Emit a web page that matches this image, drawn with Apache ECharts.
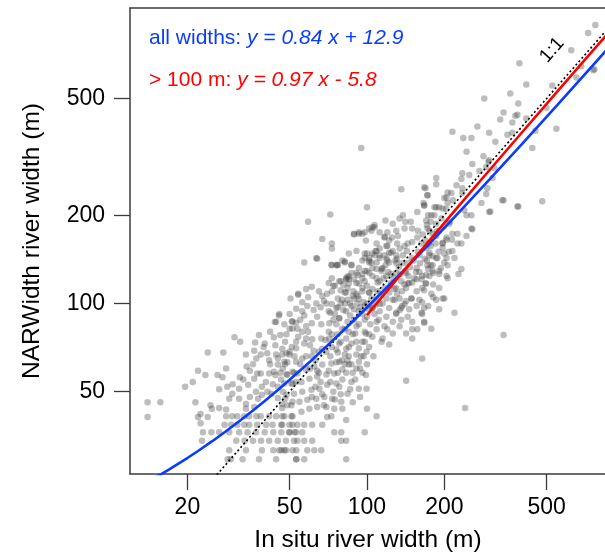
<!DOCTYPE html>
<html>
<head>
<meta charset="utf-8">
<script src="https://cdn.jsdelivr.net/npm/echarts@6/dist/echarts.min.js"></script>
<style>
html, body { margin: 0; padding: 0; background: #fff; }
#chart { width: 605px; height: 556px; }
</style>
</head>
<body>
<div id="chart"></div>
<script>
// tick values
var xTicks = [20, 50, 100, 200, 500];
var yTicks = [50, 100, 200, 500];

// fit coefficients (from the labels)
var fitAll = {slope: 0.84, icpt: 12.9};
var fitWide = {slope: 0.97, icpt: -5.8};
var fitAllX = [14, 15, 16, 17, 18, 20, 22, 25, 28, 32, 36, 40, 45, 50, 60, 70, 85, 100, 130, 170, 220, 300, 400, 550, 700, 900];
var fitWideX = [100, 130, 170, 220, 300, 400, 550, 700, 900];
var oneToOne = [[10, 10], [1200, 1200]];

// in situ width, NARWidth (m)
var ptsTail = [[14,46],[15.7,46],[14,41],[19.6,52],[21,54],[22,59],[24,68],[23.5,57],[21.5,46],[22.5,42],[22,41],[24,41],[22.5,39],[23,36.4],[22.8,34],
  [24.6,45],[26.6,51],[26.2,57],[27.4,56],[27.6,68],[28.3,60],[28.6,52],[26.6,44],[28.3,43.5],[24.9,43.7],[29.1,47.3],[29.9,49.2],[31.8,51.2]];

var ptsRows = [[28.3,41.2],[29.9,41.2],[31.3,41.2],[33.3,41.2],[34.8,41.2],[37.1,41.2],[38.6,41.2],[41.6,41.2],[44.3,41.2],[46.8,41.2],[50.8,41.2],
  [27.9,38.6],[29.6,38.6],[31.3,38.6],[33.3,38.6],[34.8,38.6],[37.4,38.6],[40.5,38.6],[42.9,38.6],[46.8,38.6],[51.3,38.6],
  [24.8,36.4],[26.6,36.4],[29.1,36.4],[31.8,36.4],[34.3,36.4],[37,36.4],[40,36.4],[43.2,36.4],[46.4,36.4],[49.9,36.4],[53,36.4],
  [31,34],[33.4,34],[36,34],[38.7,34],[41.6,34],[45,34],[48.4,34],[52,34],
  [29.1,31.6],[33.8,31.6],[39,31.6],[43.2,31.6],[46.4,31.6],[48.4,31.6],[51.3,31.6],
  [28.7,29.4],[29.5,29.4],[32.8,29.4],[38,29.4],[44.3,29.4],[53,29.4]];

var ptsSmall = [[31.8,47.3],[33.8,45.4],[34.5,52.8],[36.4,55.4],[37.4,57.7],[38.6,57.7],[40.4,54],[41.6,57.7],[43.4,58.5],[46.3,55],[48.6,57.2],[50.8,53.3],
  [39,48.8],[42.5,49.2],[45,47.6],[48.1,47.3],[51.3,46.2],[33.8,43.7],[36.4,44.3],[37.7,47.3],[46.8,44],[37.1,64.9],[40.9,67.6],[45,61.9],[48.6,67.6],
  [53,63.3],[47.7,63.3],[44.3,67],[51.3,58.5],[53,54],
  [30.5,76.7],[32.1,74],[33.8,67],[36.4,69],[36.7,73.6],[39.6,71],[43.4,76.7],[44.3,86.7],[48.6,78.5],[51.3,82.2],[46.8,70],[49.9,67],[53,74],[41.6,64],[45,65],[38.6,67],
  [50.4,104],[54,107],[45.4,91],[43.8,86.5],[51,87],[53,86],[50,82]];

var ptsCore = [[63.5,143],[72.7,135.5],[76.7,135.5],[80.2,140],[87,135.5],[96,140],[102,138],[98,148],[105,148],[112,146],[122,149],[119,142],[130,146],
  [109,131],[114,129],[102,127],[96,126],[92,125],[84,123],[89,121],[98,119],[100,115],[93,117],[85,117],[79,119],[73,122],[71,117.5],[65,110],[61,114],
  [54,108],[67,106],[73,110],[77,104],[83,109],[88.5,110],[96,110],[102,109],[84,103],[79,100],[73,99.5],[69.5,100],[63.5,100],[58.6,98],[56,94],
  [51.3,86.7],[47.7,85],[45.6,92],[53.6,82],[58,83.6],[61,85.6],[66.4,85],[71.4,85.6],[78,89],[83,94],[89,95.6],[91.7,100],[98,98],[105,96.4],
  [112,99.5],[119,104],[126,103],[131,108],[137,110],[144,117],[156,121],[164,124],[149,104],[137,98],[130,93],[136,88],[150,81.7],[164,64.9],[142,54.5],
  [120,81.7],[115,76],[109,81.7],[102,78.5],[98,74],[93,70.4],[99.6,68.4],[91,67],[87,73],[83,76],[76.7,78.5],[71.4,76],[66.4,76],[61.2,75.5],[57,73],
  [53,70.4],[50,68.4],[46.8,67],[52.2,66],[56,64.9],[61,66],[65,68.4],[69.5,68.4],[76,69.7],[82,67],[78,63.3],[72.7,62.4],[67,61.9],[62.4,61],[58,59.5],
  [53.6,57.7],[49,57.2],[47.7,53.3],[51.3,53.3],[55.6,54],[59.7,55.4],[64,56.3],[69.5,57.2],[74.6,57.7],[80.2,59.5],[85,61.9],[93,63.3],[87,54],[93,51.2],
  [99.6,51.2],[80.2,55],[76,53.3],[70,52.8],[65.3,51.2],[60.8,50.8],[56,50],[52,49.2],[48.6,48.8],[46.8,45.4],[50.8,45],[54.6,46.2],[58.6,46.9],[63.5,47.3],
  [68.2,48],[73.2,47.3],[79.4,46.2],[84,49.2],[80.2,43.7],[74.6,43.7],[69.5,44.3],[64,44.3],[59.7,43.7],[55.6,42.7],[51.3,41.2],[47.7,41.2],[46.4,38.6],
  [49.9,38.6],[53.6,38.6],[57,38.6],[61.2,38.6],[67,38.6],[72.7,41.2],[83,40],[100,43.7],[109,41.2],[98,36.4],[49.9,36.4],[52.2,36.4],[56,36.4],[74.6,36.4],
  [79.4,36.4],[83,34],[53.6,34],[57,34],[61.2,34],[79.4,34],[45.6,31.6],[47.7,31.6],[53.1,31.6],[58.6,31.6],[62.4,31.6],[66.4,31.6],[53.1,29.4],[57,29.4],[83,29.4],
  [82,138],[73,154],[76,135],[109,151],[117,146],[122,138],[130,127],[136,119],[142,113],[149,104],[156,98],[163,93],[146,95.6],[140,99.5],[134,104],
  [130,113],[124,117.5],[119,124],[114,131],[109,138],[102,143],[91,151],[85,148],[83,122],[87,127],[93,132],[100,129],[105,124],[112,119],[117,113],
  [122,109],[128,103],[136,96.4],[144,90],[150,86.7],[130,92],[122,96.4],[115,100],[109,104],[102,109],[96,113],[91,117.5],[85,121],[78,119],[75,115],
  [82,109],[88,106],[93,103.5],[100,100],[105,96.4],[112,94],[119,90],[126,86.7],[134,83.6],[142,79],[150,76],[200,104],[178,82],[167,86.7],[157,81.7],
  [126,79],[117,83.6],[109,86.7],[100,90],[93,94],[87,98],[80,103],[76,96.4],[71,94],[78,89],[84,86.7],[91,83.6],[98,80],[105,77],[114,74],[122,72.5],
  [96,74],[88,78.5],[82,81.7],[76,85],[73,78.5],[79,74],[85,71]];

var ptsDense = [[47,60],[49,63],[51,71],[54,77],[55,88],[57,91],[59,80],[60,72],[62,69],[63,64],[64,59],[66,54],[67,49],[68,45],[70,41],[71,59],[72,66],
  [73,71],[74,88],[75,92],[76,63],[77,58],[78,52],[79,49],[80,82],[81,95],[82,100],[83,58],[84,64],[85,80],[86,91],[87,62],[88,58],[89,88],[90,79],
  [91,74],[92,106],[93,85],[94,60],[95,66],[96,92],[97,101],[98,88],[99,57],[100,62],[101,96],[102,71],[103,85],[104,104],[106,66],[107,92],[108,99],
  [110,110],[111,88],[47,50],[49,45],[52,58],[55,62],[58,66],[60,60],[61,48],[63,52],[65,58],[67,70],[69,75],[71,80],[72,54],[74,50],[75,47],[77,68],
  [78,73],[80,64],[82,62],[83,70],[85,66],[86,51],[88,46],[90,55],[91,60],[94,48],[96,58],[97,66],[99,79],[59,105],[62,95],[64,90],[66,97],[68,102],
  [70,108],[72,93],[74,115],[77,97],[79,111],[81,116],[84,113],[86,100],[89,104],[91,108],[94,97],[58,112],[56,101],[53,96],[50,92],[48,74],[46,78],
  [44,72],[42,80],[40,73],[38,78],[36,62],[35,59],[33,55],[34,61],[39,52],[41,50],[43,53],[44,57],[45,52],[46,58],[48,62],[37,50],[35,48],[32,56],
  [30,53],[42,62],[56,80],[58,76],
  [105,112],[110,118],[113,108],[116,122],[118,135],[121,128],[123,115],[127,122],[129,140],[133,133],[135,126],[138,146],[140,116],[143,151],[145,124],
  [147,133],[150,162],[152,140],[155,128],[158,150],[161,137],[163,160],[165,172],[168,142],[171,185],[174,160],[177,190],[180,145],[183,200],[187,176],
  [190,150],[195,195],[199,183],[203,210],[210,190],[216,225],[120,175],[125,168],[132,170],[140,180],[148,190],[138,200],[128,112],[134,95],[142,102],
  [150,118],[160,128],[171,140],[185,160],[194,132],[208,150],[214,165]];

var ptsUpper = [[95,339],[72,201],[59,190],[100,213],[67,166],[73,160],[64,142],[57,138],[73,135],[77,135],[82,139],[87,135],[89,172],[93,175],[96,173],
  [104,177],[105,182],[107,182],[118,192],[126,187],[134,195],[141,190],[136,245],[167,249],[172,234],[186,268],[186,255],[200,229],[206,239],[167,216],
  [186,213],[173,200],[157,205],[150,180],[130,177],[117,169],[99,164],[109,160],[108,151],[112,154],[122,164],[131,160],[119,157],[124,149],[134,154],
  [140,157],[144,160],[175,177],[158,177],[157,168],[191,177],[204,165],[197,155],[177,157],[169,164],[188,143],[200,138],[204,124],[180,129],[172,135],
  [160,146],[149,143],[156,132],[144,137],[141,129],[130,137],[120,140],[112,143],[107,146],[100,148],[98,143],[104,138],[115,132],[124,126],[98,129],
  [91,127],[85,124],[83,121],[96,122],[109,122],[105,132],[102,140],
  [167,216],[191,213],[206,220],[239,208],[255,200],[299,205],[336,225],[385,214],[257,179],[244,170],[225,173],[204,168],[186,170],[197,160],[215,151],
  [233,160],[204,143],[233,131],[191,129],[180,135],[175,146],[206,122],[175,124],[170,117],[191,113],[178,108],[186,103],[191,95.6],[167,96.4],[160,103],
  [156,110],[146,117.5],[153,122],[142,127],[137,137],[131,142],[126,151],[120,157],[117,168],[112,175],[107,185],[102,180],[98,175],[93,173],[89,173]];

var ptsWide = [[392,659],[417,558],[361,520],[286,500],[388,481],[340,448],[378,437],[385,440],[330,424],[368,414],[269,401],[215,385],[299,382],[237,367],
  [255,367],[352,376],[368,382],[316,356],[244,329],[284,318],[299,308],[257,299],[297,304],[291,292],[313,290],[235,278],[274,283],[250,274],[169,247],
  [233,266],[235,247],[223,253],[213,238],[172,234],[204,230],[235,238],[294,247],[308,268],[291,236],[279,220],[340,225],[388,214],[302,206],[244,200],
  [481,223],[440,339],[546,394],[526,554],[653,590],[682,644],[760,624],[499,465],[417,427],[452,388],[166,220],[183,213],[197,211],[178,200],
  [170,192],[186,187],[209,187],[215,173],[255,180],[225,160],[197,161],[200,148],[219,143],[186,143],[175,149],[170,155],[180,173],[172,180],[774,891],
  [726,836],[624,731],[767,629],
  [206,135],[177,135],[173,131],[181,127],[191,126],[227,126],[170,125],[163,121],[169,117],[181,116],[164,113],[167,111],[181,105],[197,104],[164,101],
  [173,98],[219,93],[164,92],[167,86],[340,78],[241,44]];

var allPts = ptsTail.concat(ptsRows, ptsSmall, ptsCore, ptsDense, ptsUpper, ptsWide);

var FONT = 'Liberation Sans, Arial, sans-serif';
var BLUE = '#0a3cff';
var RED = '#ff0000';
var AXIS = '#3c3c3c';

function fitLine(xs, fit) {
  var res = [];
  for (var i = 0; i < xs.length; i++) {
    res.push([xs[i], fit.slope * xs[i] + fit.icpt]);
  }
  return res;
}

var chart = echarts.init(document.getElementById('chart'), null, {renderer: 'canvas'});
var option = {
  animation: false,
  backgroundColor: '#fff',
  grid: {left: 130, right: 0, top: 8, bottom: 82},
  xAxis: [{
    type: 'log', min: 11.96, max: 844, position: 'bottom',
    axisLine: {show: true, onZero: false, lineStyle: {color: AXIS, width: 1.5}},
    axisTick: {show: true, customValues: xTicks, length: 16, lineStyle: {color: AXIS, width: 1.3}},
    axisLabel: {customValues: xTicks, margin: 22, fontSize: 23, color: '#000', fontFamily: FONT},
    splitLine: {show: false}
  }, {
    type: 'log', min: 11.96, max: 844, position: 'top',
    axisLine: {show: true, onZero: false, lineStyle: {color: AXIS, width: 1.5}},
    axisTick: {show: false}, axisLabel: {show: false}, splitLine: {show: false}
  }],
  yAxis: {
    type: 'log', min: 26.2, max: 1018,
    axisLine: {show: true, onZero: false, lineStyle: {color: AXIS, width: 1.5}},
    axisTick: {show: true, customValues: yTicks, length: 16, lineStyle: {color: AXIS, width: 1.3}},
    axisLabel: {customValues: yTicks, margin: 25, fontSize: 23, color: '#000', fontFamily: FONT},
    splitLine: {show: false}
  },
  series: [{
    type: 'scatter',
    data: allPts,
    symbol: 'circle',
    symbolSize: 6.5,
    itemStyle: {color: 'rgba(60,60,60,0.42)'},
    silent: true
  }, {
    type: 'line',
    data: oneToOne,
    symbol: 'none',
    clip: true,
    lineStyle: {color: '#000', width: 1.6, type: [2, 2.5]}
  }, {
    type: 'line',
    data: fitLine(fitAllX, fitAll),
    symbol: 'none',
    clip: true,
    lineStyle: {color: BLUE, width: 2.6}
  }, {
    type: 'line',
    data: fitLine(fitWideX, fitWide),
    symbol: 'none',
    clip: true,
    lineStyle: {color: RED, width: 2.6}
  }],
  graphic: [{
    type: 'text', x: 149, y: 38,
    style: {
      text: '{n|all widths: }{i|y = 0.84 x + 12.9}',
      verticalAlign: 'middle',
      rich: {
        n: {fontSize: 21, fontFamily: FONT, fill: BLUE, color: BLUE},
        i: {fontSize: 21, fontFamily: FONT, fontStyle: 'italic', fill: BLUE, color: BLUE}
      }
    }
  }, {
    type: 'text', x: 149, y: 80,
    style: {
      text: '{n|> 100 m: }{i|y = 0.97 x - 5.8}',
      verticalAlign: 'middle',
      rich: {
        n: {fontSize: 21, fontFamily: FONT, fill: RED, color: RED},
        i: {fontSize: 21, fontFamily: FONT, fontStyle: 'italic', fill: RED, color: RED}
      }
    }
  }, {
    type: 'text', x: 552, y: 50, rotation: 0.85,
    style: {text: '1:1', fontSize: 19, fontFamily: FONT, fill: '#000', align: 'center', verticalAlign: 'middle'}
  }, {
    type: 'text', x: 368, y: 540,
    style: {text: 'In situ river width (m)', fontSize: 24.5, fontFamily: FONT, fill: '#000', align: 'center', verticalAlign: 'middle'}
  }, {
    type: 'text', x: 32, y: 241, rotation: Math.PI / 2,
    style: {text: 'NARWidth river width (m)', fontSize: 24.5, fontFamily: FONT, fill: '#000', align: 'center', verticalAlign: 'middle'}
  }]
};
chart.setOption(option);
</script>
</body>
</html>
